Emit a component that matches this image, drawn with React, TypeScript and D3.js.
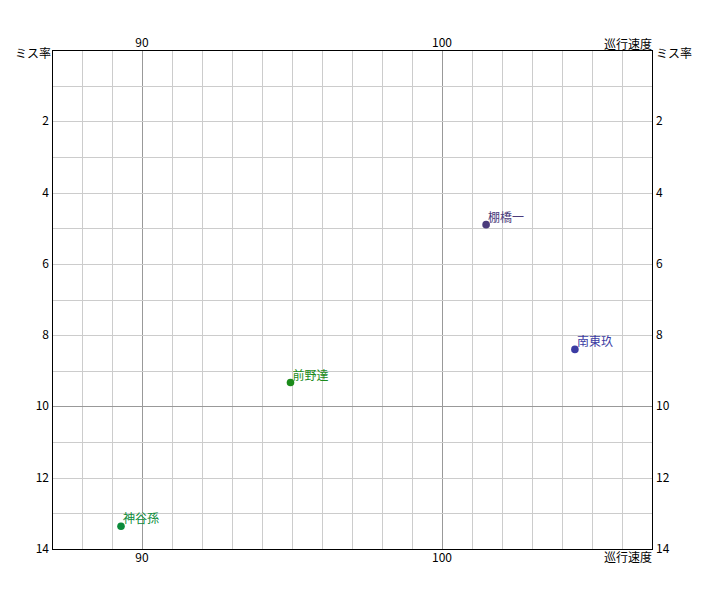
import React from "react";
import * as d3 from "d3";

const names = ["棚橋一", "南東玖", "前野達", "神谷孫"];
const speed = [101.47, 104.43, 94.95, 89.3];
const missRate = [4.9, 8.4, 9.33, 13.36];
const colors = ["#4b3b7b", "#3b3ba3", "#1b8b1b", "#0b8b3b"];
const xTickLabels = [90, 100];
const yTickLabels = [2, 4, 6, 8, 10, 12, 14];
const xAxisTitle = "巡行速度";
const yAxisTitle = "ミス率";

export default function App() {
  const W = 705, H = 600;
  const left = 52, right = 652, top = 50, bottom = 549;
  const x = d3.scaleLinear().domain([87, 107]).range([left, right]);
  const y = d3.scaleLinear().domain([0, 14]).range([top, bottom]);
  const minorX = d3.range(88, 107, 1);
  const minorY = d3.range(1, 14, 1);
  const font = "'Noto Sans CJK JP', 'DejaVu Sans', sans-serif";
  const px = (v: number) => Math.round(v) + 0.5;
  return (
    <svg width={W} height={H} style={{ position: "absolute", left: 0, top: 0, background: "#fff" }} fontFamily={font} fontSize={12}>
      <rect x={0} y={0} width={W} height={H} fill="#fff" />
      {minorX.map((v) => (
        <line key={"gx" + v} x1={px(x(v))} x2={px(x(v))} y1={top} y2={bottom} stroke={v % 10 === 0 ? "#999" : "#ccc"} strokeWidth={1} />
      ))}
      {minorY.map((v) => (
        <line key={"gy" + v} y1={px(y(v))} y2={px(y(v))} x1={left} x2={right} stroke={v % 10 === 0 ? "#999" : "#ccc"} strokeWidth={1} />
      ))}
      <rect x={left + 0.5} y={top + 0.5} width={right - left} height={bottom - top} fill="none" stroke="#000" strokeWidth={1} />
      {xTickLabels.map((v) => (
        <g key={"xt" + v}>
          <text x={x(v)} y={top - 3} textAnchor="middle" fill="#000">{v}</text>
          <text x={x(v)} y={bottom + 13} textAnchor="middle" fill="#000">{v}</text>
        </g>
      ))}
      {yTickLabels.map((v) => (
        <g key={"yt" + v}>
          <text x={left - 3} y={y(v) + 4} textAnchor="end" fill="#000">{v}</text>
          <text x={right + 4} y={y(v) + 4} textAnchor="start" fill="#000">{v}</text>
        </g>
      ))}
      <text x={left - 1} y={top + 8} textAnchor="end" fill="#000">{yAxisTitle}</text>
      <text x={right + 4} y={top + 8} textAnchor="start" fill="#000">{yAxisTitle}</text>
      <text x={right} y={top - 1} textAnchor="end" fill="#000">{xAxisTitle}</text>
      <text x={right} y={bottom + 13} textAnchor="end" fill="#000">{xAxisTitle}</text>
      {names.map((n, i) => (
        <g key={n}>
          <circle cx={x(speed[i])} cy={y(missRate[i])} r={3.8} fill={colors[i]} />
          <text x={x(speed[i]) + 2} y={y(missRate[i]) - 3} fill={colors[i]}>{n}</text>
        </g>
      ))}
    </svg>
  );
}
